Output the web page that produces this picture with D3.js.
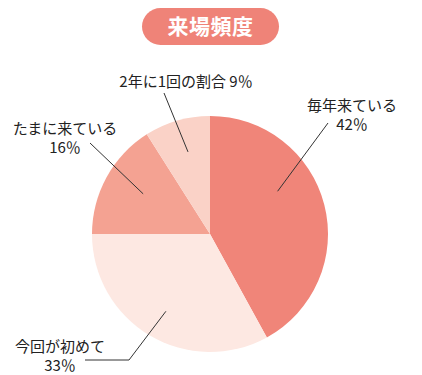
<!DOCTYPE html>
<html>
<head>
<meta charset="utf-8">
<script src="https://cdn.jsdelivr.net/npm/d3@7"></script>
<style>
  html, body { margin: 0; padding: 0; background: #fff; }
  svg { display: block; }
  text { font-family: "Noto Sans CJK JP", "Noto Sans", sans-serif; }
</style>
</head>
<body>
<svg id="chart" width="422" height="375"></svg>
<script>
// Visit frequency breakdown (percent)
const categories = ["毎年来ている", "今回が初めて", "たまに来ている", "2年に1回の割合"];
const values = [42, 33, 16, 9];
const colors = ["#f08579", "#fde8e2", "#f4a292", "#fad2c7"];
const title = "来場頻度";

const svg = d3.select("#chart");
const cx = 210, cy = 234, radius = 118;

// Title pill
const pill = svg.append("g");
pill.append("rect")
  .attr("x", 142).attr("y", 8)
  .attr("width", 137).attr("height", 37)
  .attr("rx", 18.5)
  .attr("fill", "#ef8378");
pill.append("text")
  .attr("x", 210.5).attr("y", 34)
  .attr("text-anchor", "middle")
  .attr("fill", "#fff")
  .attr("font-size", 21)
  .attr("font-weight", 700)
  .attr("letter-spacing", 0.5)
  .text(title);

// Pie, clockwise from 12 o'clock, in data order
const pie = d3.pie().sort(null).value(d => d)(values);
const arc = d3.arc().innerRadius(0).outerRadius(radius);

const g = svg.append("g").attr("transform", `translate(${cx},${cy})`);
g.selectAll("path.slice")
  .data(pie)
  .join("path")
  .attr("class", "slice")
  .attr("d", arc)
  .attr("fill", (d, i) => colors[i]);

// Label placement: text position, leader anchor (angle in deg from top, radius), outer points
const layout = [
  { tx: 352, ty: 111, line2: true, anchor: [57.7, 80], pts: [[328, 123]] },
  { tx: 60,  ty: 352, line2: true, anchor: [209.7, 89], pts: [[129, 360], [85, 360]] },
  { tx: 65,  ty: 134, line2: true, anchor: [301, 78], pts: [[90, 143]] },
  { tx: 186, ty: 87,  line2: false, anchor: [345, 85], pts: [[164, 93]] }
];

const polar = (deg, r) => {
  const a = deg * Math.PI / 180;
  return [cx + r * Math.sin(a), cy - r * Math.cos(a)];
};

const line = d3.line();
layout.forEach((L, i) => {
  const start = polar(L.anchor[0], L.anchor[1]);
  svg.append("path")
    .attr("d", line([start, ...L.pts]))
    .attr("fill", "none")
    .attr("stroke", "#333")
    .attr("stroke-width", 1);

  const t = svg.append("text")
    .attr("x", L.tx).attr("y", L.ty)
    .attr("text-anchor", "middle")
    .attr("font-size", 15)
    .attr("fill", "#222");
  if (L.line2) {
    t.append("tspan").attr("x", L.tx).attr("dy", 0).text(categories[i]);
    t.append("tspan").attr("x", L.tx).attr("dy", 19).text(values[i] + "％");
  } else {
    t.text(categories[i] + " " + values[i] + "％");
  }
});
</script>
</body>
</html>
